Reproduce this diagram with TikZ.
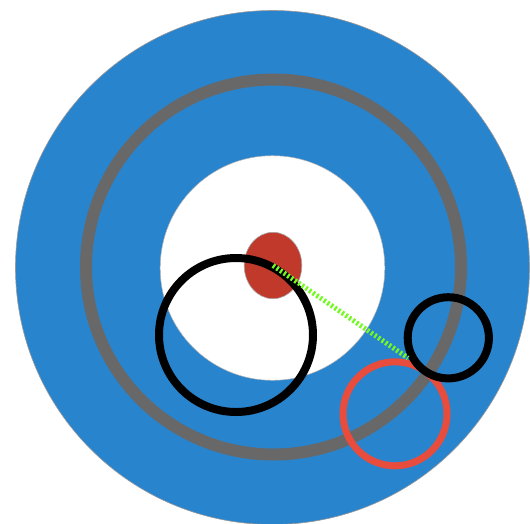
\documentclass[tikz,border=0pt]{standalone}
\definecolor{bigblue}{RGB}{41,132,206}
\definecolor{ringgray}{RGB}{104,104,104}
\definecolor{dotred}{RGB}{192,57,43}
\definecolor{ringred}{RGB}{231,76,60}
\definecolor{dashgreen}{RGB}{115,250,35}
\begin{document}
\begin{tikzpicture}[x=1pt,y=-1pt,
  disc/.style={fill=bigblue,draw=gray!80,line width=0.6pt},
  blackring/.style={draw=black,line width=8pt},
  redring/.style={draw=ringred,line width=7pt},
  greendash/.style={draw=dashgreen,line width=5pt,dash pattern=on 2.2pt off 2.2pt}]
\useasboundingbox (0,0) rectangle (530,523);
\clip (0,0) rectangle (530,523);
\coordinate (c) at (272.5,267.5);
\coordinate (e) at (273,265.5);
\coordinate (lineend) at (408,358);
\fill[white] (0,0) rectangle (530,523);
\path[disc] (c) circle[radius=257pt];
\draw[ringgray,line width=12pt] (273.5,267) circle[radius=187.5pt];
\path[fill=white,draw=gray!60,line width=0.5pt] (272.5,268) circle[radius=112.3pt];
\path[fill=dotred,draw=gray!70,line width=0.6pt] (e) ellipse[x radius=28.8pt,y radius=33.2pt];
\draw[blackring] (236,335) circle[radius=77pt];
\draw[redring] (395,413.8) circle[radius=52pt];
\draw[blackring] (448.3,337.8) circle[radius=40.6pt];
\draw[greendash] (e) -- (lineend);
\end{tikzpicture}
\end{document}
